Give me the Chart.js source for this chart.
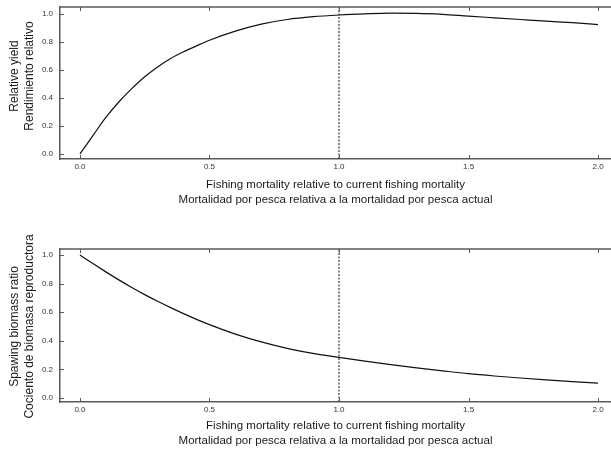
<!DOCTYPE html>
<html lang="en">
<head>
    <meta charset="UTF-8">
    <title>Relative yield and spawning biomass ratio</title>
    <script src="https://cdn.jsdelivr.net/npm/chart.js"></script>
    <style>
        body {
            margin: 0;
            background-color: #ffffff;
            width: 611px;
            height: 456px;
            position: relative;
            overflow: hidden;
        }
        .panel {
            position: absolute;
            left: 0;
        }
        #topPanel { top: 0; }
        #bottomPanel { top: 225px; }
    </style>
</head>
<body>

    <div class="panel" id="topPanel"><canvas id="yieldChart" width="611" height="225"></canvas></div>
    <div class="panel" id="bottomPanel"><canvas id="ssbChart" width="611" height="231"></canvas></div>

    <script>
        // fishing mortality multiplier (relative to current F)
        const fMult = [0, 0.05, 0.1, 0.15, 0.2, 0.25, 0.3, 0.35, 0.4, 0.45, 0.5, 0.6, 0.7, 0.8, 0.9,
                       1.0, 1.1, 1.2, 1.3, 1.4, 1.5, 1.6, 1.7, 1.8, 1.9, 2.0];
        const relYield = [0, 0.13, 0.26, 0.37, 0.465, 0.55, 0.62, 0.68, 0.728, 0.77, 0.81, 0.875, 0.925, 0.958, 0.978,
                          0.99, 0.998, 1.003, 1.002, 0.995, 0.982, 0.97, 0.958, 0.946, 0.935, 0.922];
        const ssbRatio = [1.0, 0.94, 0.882, 0.826, 0.773, 0.723, 0.676, 0.632, 0.59, 0.55, 0.513, 0.447, 0.392, 0.347, 0.312,
                          0.284, 0.258, 0.234, 0.211, 0.19, 0.17, 0.154, 0.14, 0.127, 0.115, 0.104];
        const currentF = 1.0;
        const xTicks = [0, 0.5, 1.0, 1.5, 2.0];
        const yTicks = [0, 0.2, 0.4, 0.6, 0.8, 1.0];

        const xTitle = ['Fishing mortality relative to current fishing mortality',
                        'Mortalidad por pesca relativa a la mortalidad por pesca actual'];
        const yieldTitle = ['Relative yield', 'Rendimiento relativo'];
        const ssbTitle = ['Spawing biomass ratio', 'Cociento de biomasa reproductora'];

        const FONT = '"Liberation Sans", Arial, sans-serif';
        const AXIS_COLOR = '#5a5a5a';

        // inward tick marks + top frame line
        const innerTicks = {
            id: 'innerTicks',
            afterDraw(chart) {
                const {ctx, chartArea} = chart;
                const xs = chart.scales.x, ys = chart.scales.y;
                ctx.save();
                ctx.strokeStyle = AXIS_COLOR;
                ctx.lineWidth = 1.5;
                ctx.beginPath();
                ctx.moveTo(chartArea.left, chartArea.top);
                ctx.lineTo(chartArea.right, chartArea.top);
                ctx.stroke();
                ctx.lineWidth = 1;
                ctx.beginPath();
                xs.ticks.forEach(t => {
                    const px = Math.round(xs.getPixelForValue(t.value)) + 0.5;
                    ctx.moveTo(px, chartArea.bottom);
                    ctx.lineTo(px, chartArea.bottom - 4);
                    ctx.moveTo(px, chartArea.top);
                    ctx.lineTo(px, chartArea.top + 4);
                });
                ys.ticks.forEach(t => {
                    const py = Math.round(ys.getPixelForValue(t.value)) + 0.5;
                    ctx.moveTo(chartArea.left, py);
                    ctx.lineTo(chartArea.left + 4, py);
                });
                ctx.stroke();
                ctx.restore();
            }
        };

        // two-line rotated y title
        const sideTitle = {
            id: 'sideTitle',
            afterDraw(chart, args, opts) {
                const ctx = chart.ctx;
                ctx.save();
                ctx.translate(opts.x, opts.y);
                ctx.rotate(-Math.PI / 2);
                ctx.font = '12px ' + FONT;
                ctx.fillStyle = '#1a1a1a';
                ctx.textAlign = 'center';
                ctx.textBaseline = 'middle';
                opts.lines.forEach((t, i) => ctx.fillText(t, 0, i * 14.5));
                ctx.restore();
            }
        };

        function makeChart(id, values, yMin, yMax, cfg) {
            const ctx = document.getElementById(id).getContext('2d');
            return new Chart(ctx, {
                type: 'line',
                data: {
                    datasets: [{
                        data: fMult.map((f, i) => ({x: f, y: values[i]})),
                        borderColor: '#111111',
                        borderWidth: 1.2,
                        pointRadius: 0,
                        fill: false,
                        cubicInterpolationMode: 'monotone'
                    }, {
                        data: [{x: currentF, y: yMin}, {x: currentF, y: yMax}],
                        borderColor: '#111111',
                        borderWidth: 1,
                        borderDash: [2, 1.5],
                        pointRadius: 0,
                        fill: false
                    }]
                },
                options: {
                    responsive: false,
                    animation: false,
                    layout: { padding: { top: cfg.padTop, right: 0, left: 0, bottom: 0 } },
                    plugins: {
                        legend: { display: false },
                        tooltip: { enabled: false },
                        sideTitle: { lines: cfg.yTitle, x: 15, y: cfg.titleY }
                    },
                    scales: {
                        x: {
                            type: 'linear',
                            min: -0.077,
                            max: 2.05,
                            grid: { display: false, drawTicks: false },
                            border: { display: true, color: AXIS_COLOR, width: 1.5 },
                            afterBuildTicks: s => { s.ticks = xTicks.map(v => ({value: v})); },
                            afterFit: s => { s.height = cfg.xHeight; s.paddingLeft = 0; s.paddingRight = 0; },
                            ticks: {
                                padding: 3,
                                color: '#333333',
                                font: { family: FONT, size: 8 },
                                callback: v => v.toFixed(1)
                            },
                            title: {
                                display: true,
                                text: xTitle,
                                color: '#1a1a1a',
                                font: { family: FONT, size: 11.5, lineHeight: 1.3 },
                                padding: { top: 0, bottom: cfg.titlePad }
                            }
                        },
                        y: {
                            min: yMin,
                            max: yMax,
                            grid: { display: false, drawTicks: false },
                            border: { display: true, color: AXIS_COLOR, width: 1.5 },
                            afterBuildTicks: s => { s.ticks = yTicks.map(v => ({value: v})); },
                            afterFit: s => { s.width = 60; s.paddingTop = 0; s.paddingBottom = 0; },
                            ticks: {
                                padding: 7,
                                color: '#333333',
                                font: { family: FONT, size: 8 },
                                callback: v => v.toFixed(1)
                            }
                        }
                    }
                },
                plugins: [innerTicks, sideTitle]
            });
        }

        makeChart('yieldChart', relYield, -0.036, 1.047,
            { padTop: 7, xHeight: 66, titlePad: 17.5, yTitle: yieldTitle, titleY: 76 });
        makeChart('ssbChart', ssbRatio, -0.028, 1.042,
            { padTop: 24, xHeight: 54, titlePad: 7.5, yTitle: ssbTitle, titleY: 101.5 });
    </script>

</body>
</html>
